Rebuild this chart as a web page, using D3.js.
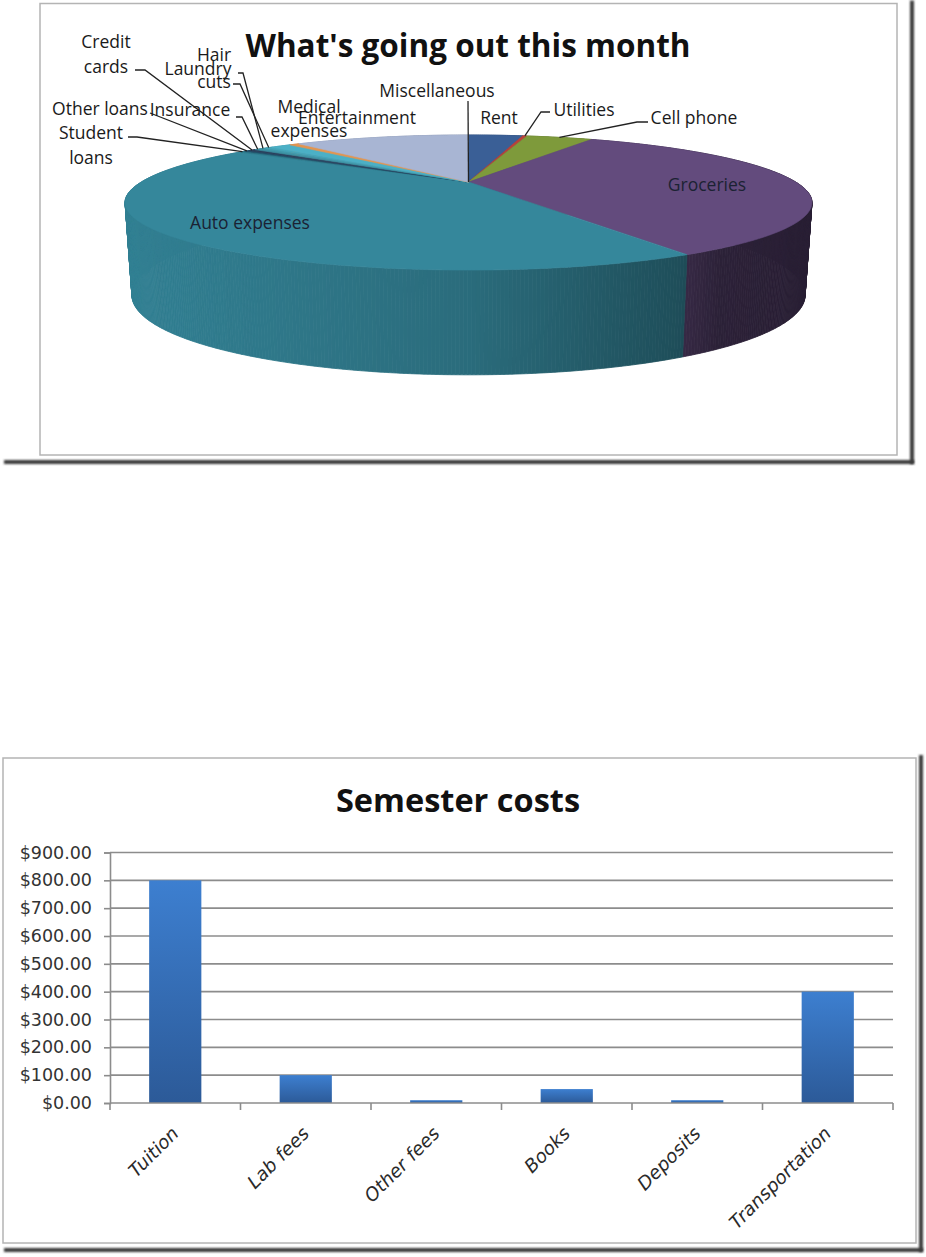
<!DOCTYPE html>
<html><head><meta charset="utf-8">
<script src="https://cdn.jsdelivr.net/npm/d3@7"></script>
<style>body{margin:0;background:#fff}svg{display:block}</style>
</head><body>
<svg id="c" width="926" height="1257"></svg>
<script>
// ---------------- DATA ----------------
const pieTitle = "What's going out this month";
const pieCategories = ["Rent","Utilities","Cell phone","Groceries","Auto expenses","Student loans","Other loans","Credit cards","Insurance","Laundry","Hair cuts","Medical expenses","Entertainment","Miscellaneous"];
const pieValues = [62, 5, 75, 611, 772, 6, 6, 8, 7, 7, 8, 23, 11, 199];
const pieColors = ["#3a5f96","#b8413a","#7e9a3b","#634b7d","#35879b","#2d7a8c","#23506a","#2b3f5c","#3b8ea0","#3f98ab","#45a5b9","#4bb0c6","#e39550","#a8b5d3"];

const barTitle = "Semester costs";
const barCategories = ["Tuition","Lab fees","Other fees","Books","Deposits","Transportation"];
const barValues = [800, 100, 10, 50, 10, 400];
const barTicks = [0,100,200,300,400,500,600,700,800,900];

// ---------------- LAYOUT ----------------
const svg = d3.select("#c");
const defs = svg.append("defs");
const fl = defs.append("filter").attr("id","blur").attr("x","-50%").attr("y","-50%").attr("width","200%").attr("height","200%");
fl.append("feGaussianBlur").attr("stdDeviation",1.1);

function frame(x0,y0,x1,y1,sx,sy){
  const g = svg.append("g");
  g.append("rect").attr("x",sx-2).attr("y",y0-3).attr("width",4).attr("height",sy-y0+5)
    .attr("fill","#3a3a3a").attr("filter","url(#blur)");
  g.append("rect").attr("x",4).attr("y",sy-2).attr("width",sx-2).attr("height",4)
    .attr("fill","#3a3a3a").attr("filter","url(#blur)");
  g.append("rect").attr("x",x0).attr("y",y0).attr("width",x1-x0).attr("height",y1-y0)
    .attr("fill","#fff").attr("stroke","#b4b4b4").attr("stroke-width",1.5);
}
frame(40,3.5,897,455,912,462);
frame(3,758,916,1243,921,1250);

// ---------------- PIE (3D) ----------------
const P = {cx:468.5, cy:182, R:327.2, Ry:61.3, p:0.304, D:88, pd:0.16, shrink:0.98};
function topPt(t, r=1){
  const u = r*Math.sin(t), v = -r*Math.cos(t);
  const s = 1/(1-P.p*v);
  return [P.cx + P.R*u*s, P.cy + P.Ry*v*s];
}
function botPt(t){
  const [x,y] = topPt(t);
  const v = -Math.cos(t);
  return [P.cx + (x-P.cx)*P.shrink, y + P.D/(1-P.pd*v)];
}
const arcs = d3.pie().sort(null).value(d=>d).startAngle(0).endAngle(2*Math.PI)(pieValues);
const shade = d3.scaleLinear().domain([125,468,680,720,812]).range([0.95,0.8,0.58,0.45,0.42]).clamp(true);

const gPie = svg.append("g");
const quads = [];
arcs.forEach((a,i)=>{
  const n = Math.max(1, Math.ceil((a.endAngle-a.startAngle)/(Math.PI/360)));
  for(let k=0;k<n;k++){
    const t0 = a.startAngle + (a.endAngle-a.startAngle)*k/n;
    const t1 = a.startAngle + (a.endAngle-a.startAngle)*(k+1)/n;
    quads.push({i, t0, t1, v:-Math.cos((t0+t1)/2)});
  }
});
quads.sort((a,b)=>a.v-b.v);
quads.forEach(q=>{
  const p0=topPt(q.t0), p1=topPt(q.t1), p2=botPt(q.t1), p3=botPt(q.t0);
  const c = d3.rgb(pieColors[q.i]); const f = shade((p0[0]+p1[0])/2);
  const col = d3.rgb(c.r*f, c.g*f, c.b*f).toString();
  gPie.append("path").attr("d", d3.line()([p0,p1,p2,p3]) + "Z")
    .attr("fill", col).attr("stroke", col).attr("stroke-width", 0.8);
});
arcs.forEach((a,i)=>{
  const pts = [[P.cx,P.cy]];
  const n = Math.max(2, Math.ceil((a.endAngle-a.startAngle)/(Math.PI/360)));
  for(let k=0;k<=n;k++) pts.push(topPt(a.startAngle + (a.endAngle-a.startAngle)*k/n));
  gPie.append("path").attr("d", d3.line()(pts)+"Z")
    .attr("fill", pieColors[i]).attr("stroke", pieColors[i]).attr("stroke-width", 0.6);
});

svg.append("text").attr("x",468).attr("y",46).attr("dy","0.35em").attr("text-anchor","middle")
  .attr("font-family","'Open Sans', sans-serif").attr("font-weight","bold").attr("font-size",31.5)
  .attr("fill","#111").text(pieTitle);

const labelLayout = {
  "Rent":            {lines:["Rent"], x:499, y:[118]},
  "Utilities":       {lines:["Utilities"], x:584, y:[110], leader:[[550,112],[541,112]]},
  "Cell phone":      {lines:["Cell phone"], x:694, y:[118], leader:[[648,122],[637,122]]},
  "Groceries":       {lines:["Groceries"], x:707, y:[185], inside:true},
  "Auto expenses":   {lines:["Auto expenses"], x:250, y:[223], inside:true},
  "Student loans":   {lines:["Student","loans"], x:91, y:[133,158], leader:[[128,137],[137,137]]},
  "Other loans":     {lines:["Other loans"], x:100, y:[109], leader:[[150,113]]},
  "Credit cards":    {lines:["Credit","cards"], x:106, y:[42,67], leader:[[135,70],[145,70]]},
  "Insurance":       {lines:["Insurance"], x:190, y:[110], leader:[[236,117],[242,117]]},
  "Laundry":         {lines:["Laundry"], x:198, y:[69], leader:[[238,73],[243,73]]},
  "Hair cuts":       {lines:["Hair","cuts"], x:214, y:[55,82], leader:[[233,84],[240,84]]},
  "Medical expenses":{lines:["Medical","expenses"], x:309, y:[107,131]},
  "Entertainment":   {lines:["Entertainment"], x:357, y:[118]},
  "Miscellaneous":   {lines:["Miscellaneous"], x:437, y:[91], leader:[[468,101]], toCenter:true}
};
const gLab = svg.append("g");
arcs.forEach((a,i)=>{
  const L = labelLayout[pieCategories[i]];
  if(!L) return;
  if(L.leader){
    const end = L.toCenter ? [P.cx,P.cy] : topPt((a.startAngle+a.endAngle)/2);
    gLab.append("path").attr("d", d3.line()([...L.leader, end]))
      .attr("fill","none").attr("stroke","#222").attr("stroke-width",1.3);
  }
  L.lines.forEach((t,k)=>{
    gLab.append("text").attr("x",L.x).attr("y",L.y[k]).attr("dy","0.35em").attr("text-anchor","middle")
      .attr("font-family","'Open Sans', sans-serif").attr("font-size",17.5)
      .attr("fill", L.inside ? "#1b2233" : "#1a1a1a").text(t);
  });
});

// ---------------- BAR CHART ----------------
const x = d3.scaleBand().domain(barCategories).range([110,893]).paddingInner(0.6).paddingOuter(0.3);
const y = d3.scaleLinear().domain([0,900]).range([1103,852.5]);
const gBar = svg.append("g");
const grad = defs.append("linearGradient").attr("id","barg").attr("x1",0).attr("y1",0).attr("x2",0).attr("y2",1);
grad.append("stop").attr("offset","0%").attr("stop-color","#3d7fd0");
grad.append("stop").attr("offset","100%").attr("stop-color","#2c5a98");

gBar.selectAll("line.grid").data(barTicks.slice(1)).join("line").attr("class","grid")
  .attr("x1",110).attr("x2",893).attr("y1",d=>y(d)).attr("y2",d=>y(d))
  .attr("stroke","#8c8c8c").attr("stroke-width",1.6);

gBar.selectAll("rect.bar").data(barValues).join("rect").attr("class","bar")
  .attr("x",(d,i)=>x(barCategories[i])).attr("width",x.bandwidth())
  .attr("y",d=>y(d)).attr("height",d=>y(0)-y(d)).attr("fill","url(#barg)");

const yAxis = gBar.append("g").attr("transform","translate(110,0)")
  .call(d3.axisLeft(y).tickValues(barTicks).tickSize(6).tickPadding(12)
    .tickFormat(d=>"$"+d3.format(".2f")(d)));
yAxis.select(".domain").attr("stroke","#8c8c8c").attr("stroke-width",1.6);
yAxis.selectAll(".tick line").attr("stroke","#8c8c8c").attr("stroke-width",1.6);
yAxis.selectAll(".tick text").attr("font-family","'DejaVu Sans', sans-serif").attr("font-size",17.5).attr("fill","#333");

gBar.append("line").attr("x1",110).attr("x2",893).attr("y1",y(0)).attr("y2",y(0))
  .attr("stroke","#8c8c8c").attr("stroke-width",1.6);
const step = x.step();
const x0b = x(barCategories[0]) - x.paddingOuter()*step;
const bounds = d3.range(barCategories.length+1).map(k=>x0b + k*step);
gBar.selectAll("line.xt").data(bounds).join("line").attr("class","xt")
  .attr("x1",d=>d).attr("x2",d=>d).attr("y1",y(0)).attr("y2",y(0)+7)
  .attr("stroke","#8c8c8c").attr("stroke-width",1.6);
gBar.selectAll("text.xl").data(barCategories).join("text").attr("class","xl")
  .attr("transform",d=>`translate(${x(d)+x.bandwidth()/2},${y(0)+27}) rotate(-45)`)
  .attr("text-anchor","end").attr("dy","0.35em")
  .attr("font-family","'DejaVu Sans', sans-serif").attr("font-style","italic").attr("font-size",18.5)
  .attr("fill","#2a2a2a").text(d=>d);

svg.append("text").attr("x",458).attr("y",801).attr("dy","0.35em").attr("text-anchor","middle")
  .attr("font-family","'Open Sans', sans-serif").attr("font-weight","bold").attr("font-size",32.5)
  .attr("fill","#111").text(barTitle);
</script>
</body></html>
